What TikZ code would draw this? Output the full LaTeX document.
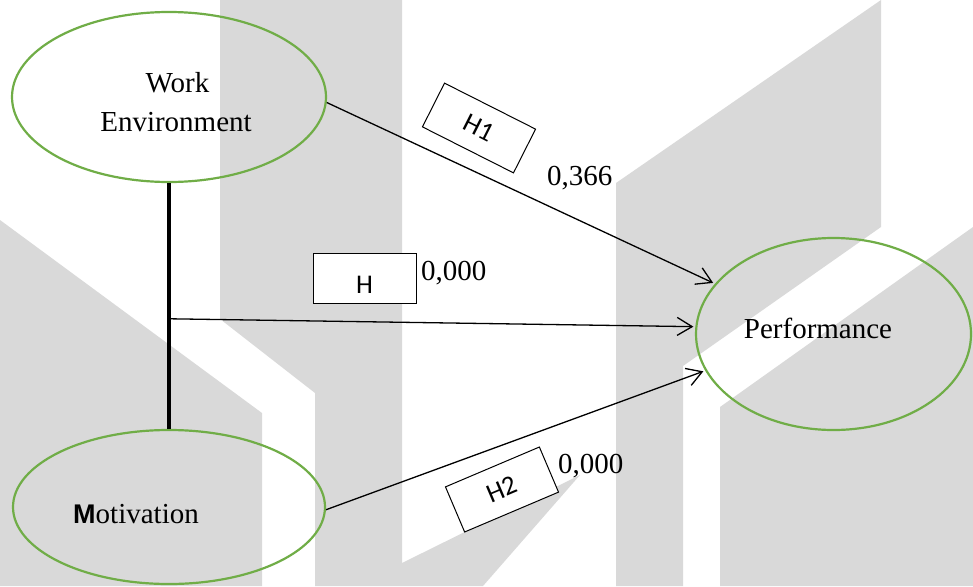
\documentclass[tikz,border=0pt]{standalone}
\usepackage{fontspec}
\setmainfont{Liberation Serif}
\newfontfamily\calfont{Carlito}
\newfontfamily\arialfont{Liberation Sans}
\usetikzlibrary{shapes.geometric,arrows.meta,calc}
\definecolor{wm}{HTML}{D9D9D9}
\definecolor{grn}{HTML}{70AD47}
\begin{document}
\begin{tikzpicture}[x=1pt,y=-1pt,
  latent/.style={draw=grn, fill=none, line width=2.2pt, shape=ellipse, inner sep=0pt},
  hbox/.style={draw=black, fill=white, line width=1pt, minimum width=102pt,
    minimum height=49pt, inner sep=0pt, font=\calfont\fontsize{27}{30}\selectfont},
  txt/.style={font=\fontsize{29}{34}\selectfont, inner sep=0pt},
  arr/.style={line width=1.3pt, -{Straight Barb[length=15pt,width=18pt]}},
  pillar/.style={line width=4pt}
]
\useasboundingbox (0,0) rectangle (973,586);
\clip (0,0) rectangle (973,586);
% watermark
\fill[wm] (0,220) -- (262,413) -- (262,586) -- (0,586) -- cycle;
\fill[wm] (220,0) -- (402,0) -- (402,563) -- (580,475) -- (483,586) -- (315,586)
  -- (315,393) -- (220,319) -- cycle;
\fill[wm] (616,183) -- (881,0) -- (881,227) -- (683,366) -- (683,586) -- (616,586) -- cycle;
\fill[wm] (973,227) -- (720,407) -- (720,586) -- (973,586) -- cycle;
% latent variables
\node[latent, minimum width=314pt, minimum height=170pt] (we) at (169,97) {};
\node[latent, minimum width=312pt, minimum height=154pt] (mot) at (169,507) {};
\node[latent, minimum width=275pt, minimum height=192pt, outer sep=3pt] (perf) at (833.5,334) {};
% texts
\node[txt, anchor=base] (weA) at (177.5,92) {Work};
\node[txt, anchor=base] (weB) at (176,131) {Environment};
\node[txt, anchor=base west] (motT) at (73,523) {{\arialfont\bfseries\fontsize{27}{30}\selectfont M}otivation};
\node[txt, anchor=base] (perfT) at (818,338) {Performance};
% connectors
\draw[pillar] (we.south) -- (mot.north);
\coordinate (mid) at ($(we.south)!0.552!(mot.north)$);
\draw[arr] (we.-2) -- (perf.157);
\draw[arr] (mid) -- (perf.177);
\draw[arr] (mot.-1) -- (perf.196);
% hypothesis boxes
\node[hbox, rotate=-26.8] (h1) at (479,128) {H1};
\node[hbox, minimum width=103pt, minimum height=50pt, text height=30pt, text depth=0pt] (h0) at (364.5,278) {H};
\node[hbox, rotate=23] (h2) at (502,489.5) {H2};
% values
\node[txt, anchor=base west] (v1) at (547,185) {0,366};
\node[txt, anchor=base west] (v0) at (421,280) {0,000};
\node[txt, anchor=base west] (v2) at (558,473) {0,000};
\end{tikzpicture}
\end{document}
